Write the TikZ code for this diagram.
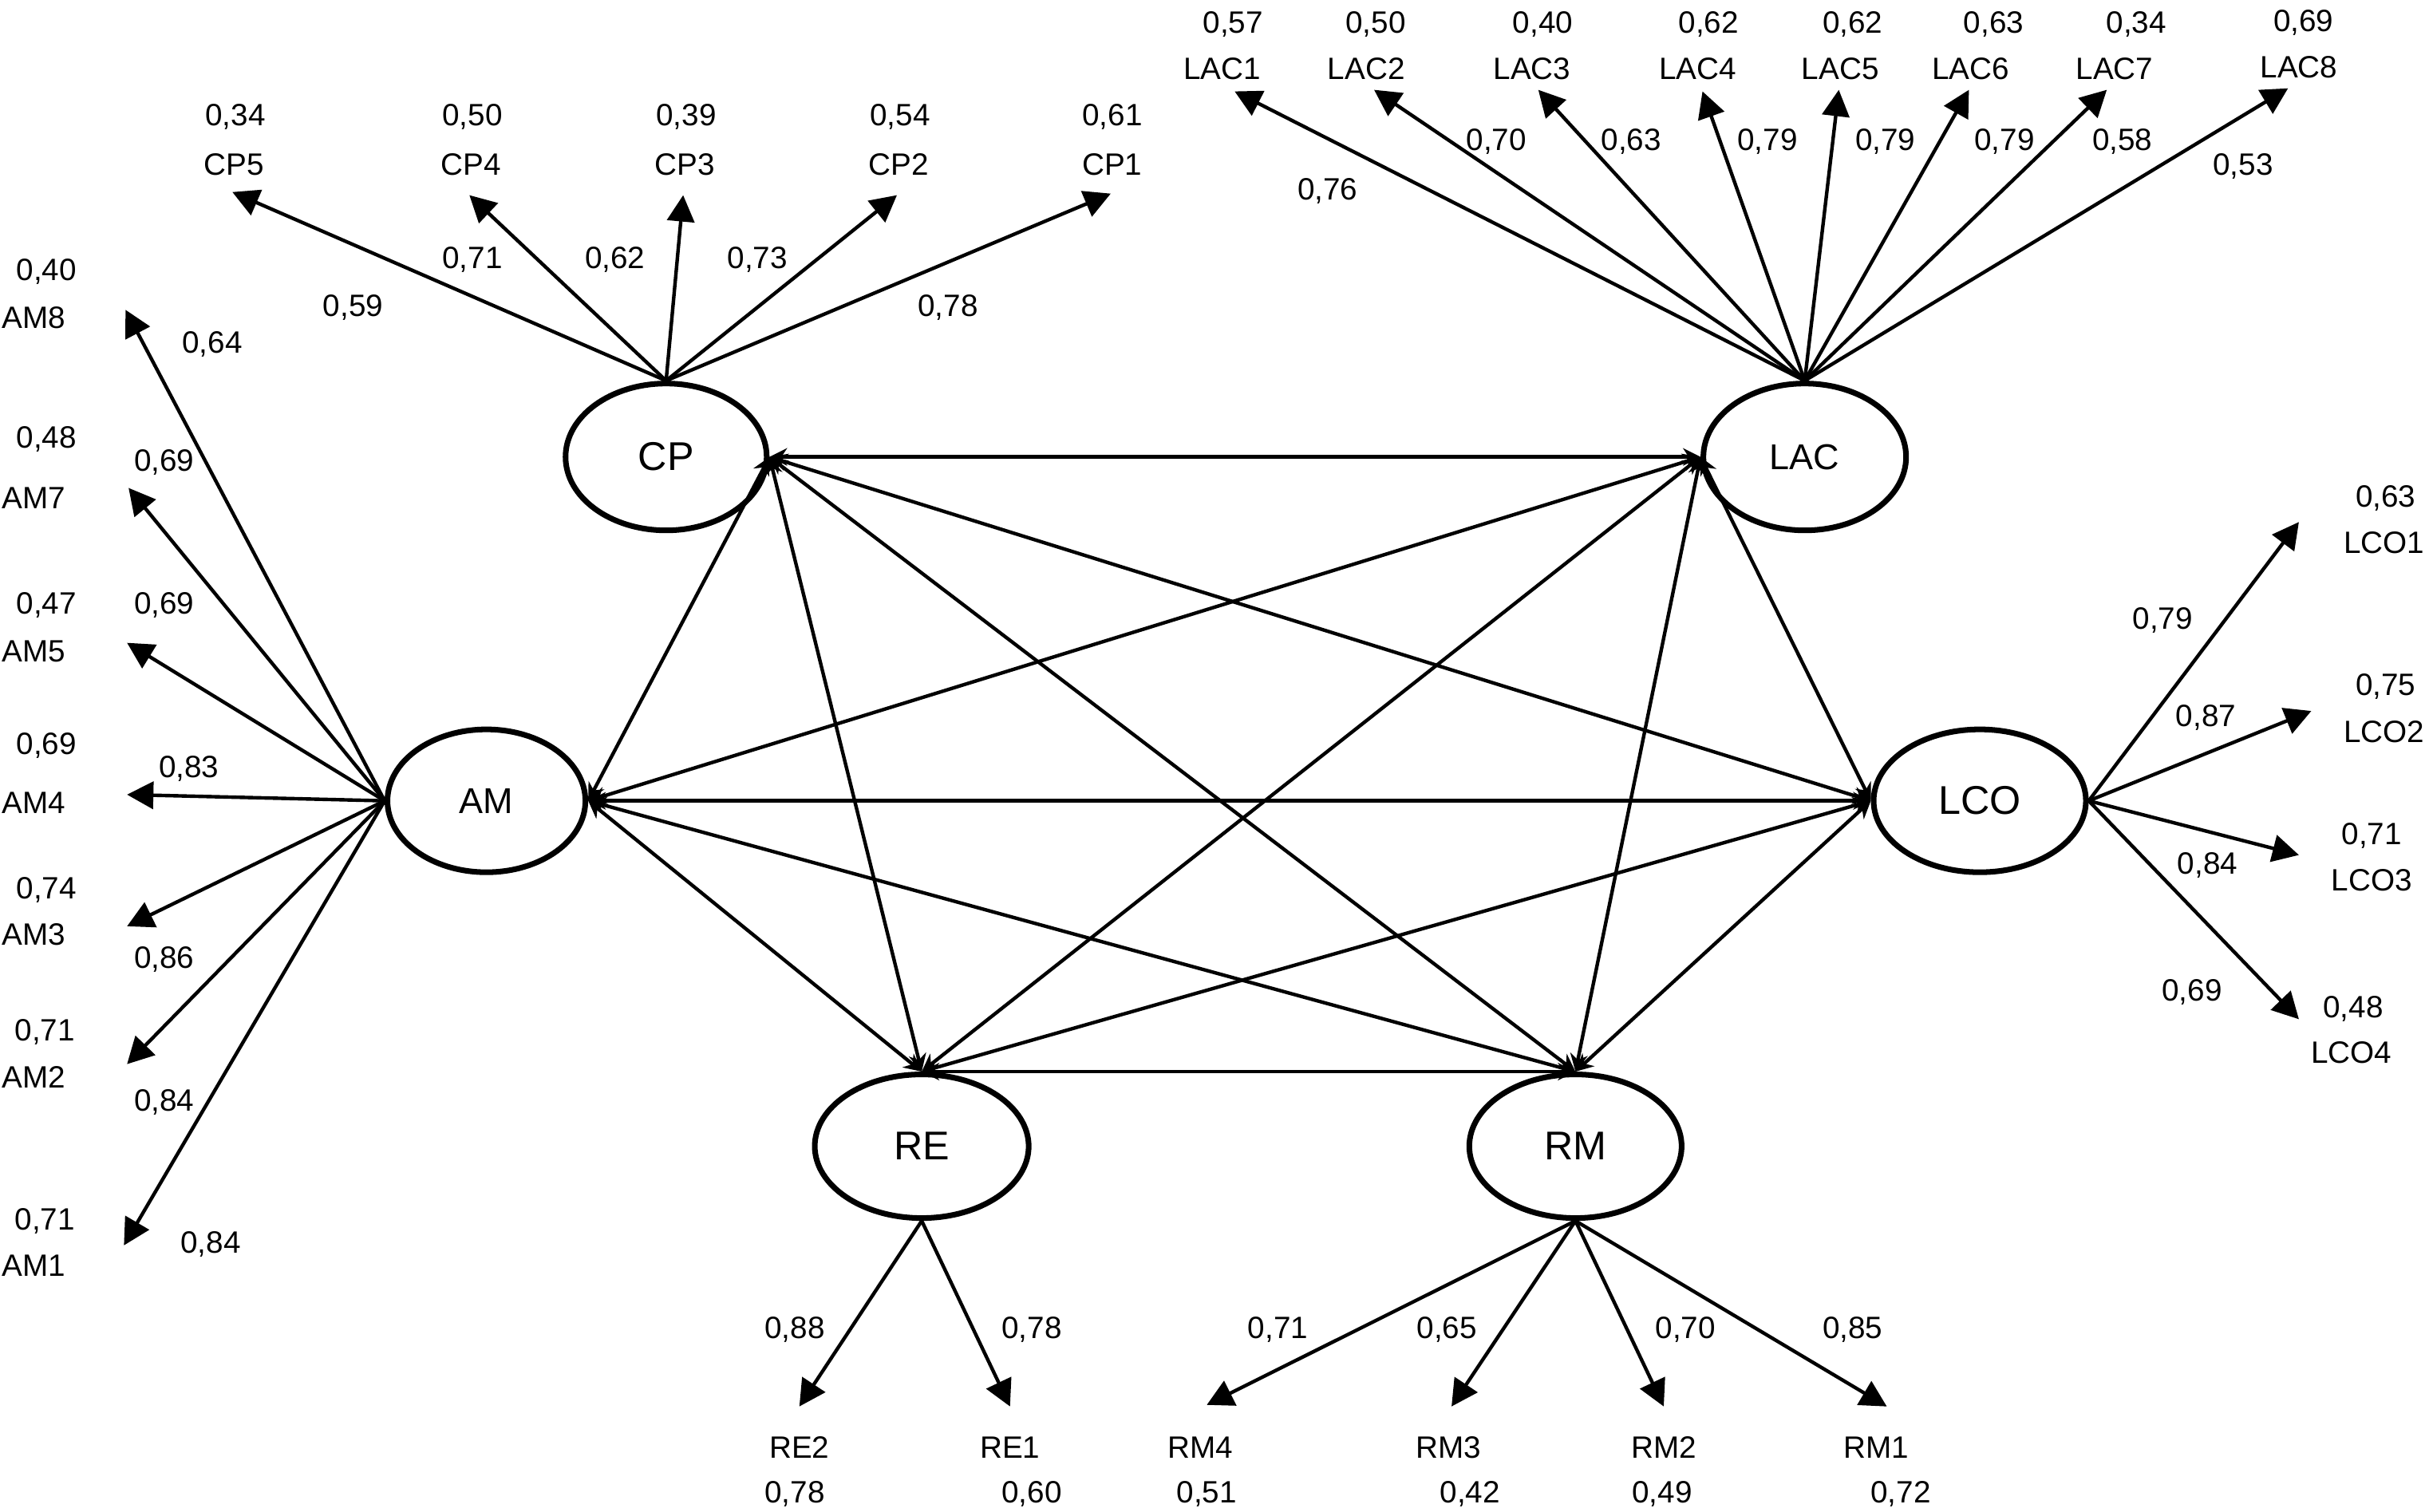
\documentclass[tikz,border=0pt]{standalone}
\usepackage{fontspec}
\setmainfont{Liberation Sans}
\usetikzlibrary{arrows.meta,shapes.geometric}

\begin{document}
\begin{tikzpicture}[x=0.019413cm, y=-0.019413cm,
    latent/.style = {draw, ellipse, line width=2pt, inner sep=0pt, font=\fontsize{14.3}{16}\selectfont},
    item/.style = {inner sep=0pt, text height=7.9pt, text depth=0pt, font=\fontsize{11}{13}\selectfont},
    load/.style = {-{Triangle[length=0.33cm, width=0.34cm]}, line width=1.25pt},
    cov/.style = {{Stealth[length=0.22cm, width=0.22cm]}-{Stealth[length=0.22cm, width=0.22cm]}, line width=1.25pt}]
    \useasboundingbox (0,0) rectangle (1568,976);

    % latent variables
    \node[latent, minimum width=2.52cm, minimum height=1.84cm] (CP) at (430,295) {CP};
    \node[latent, minimum width=2.54cm, minimum height=1.84cm, font=\fontsize{12.8}{15}\selectfont] (LAC) at (1165,295) {LAC};
    \node[latent, minimum width=2.48cm, minimum height=1.79cm, font=\fontsize{12.8}{15}\selectfont] (AM) at (314,517) {AM};
    \node[latent, minimum width=2.66cm, minimum height=1.79cm] (LCO) at (1278,517) {LCO};
    \node[latent, minimum width=2.68cm, minimum height=1.80cm] (RE) at (595,740) {RE};
    \node[latent, minimum width=2.66cm, minimum height=1.80cm] (RM) at (1017,740) {RM};

    % covariances
    \draw[cov] (CP.east) -- (LAC.west);
    \draw[cov] (CP.east) -- (AM.east);
    \draw[cov] (CP.east) -- (LCO.west);
    \draw[cov] (CP.east) -- (RE.north);
    \draw[cov] (CP.east) -- (RM.north);
    \draw[cov] (LAC.west) -- (AM.east);
    \draw[cov] (LAC.west) -- (LCO.west);
    \draw[cov] (LAC.west) -- (RE.north);
    \draw[cov] (LAC.west) -- (RM.north);
    \draw[cov] (AM.east) -- (LCO.west);
    \draw[cov] (AM.east) -- (RE.north);
    \draw[cov] (AM.east) -- (RM.north);
    \draw[cov] (LCO.west) -- (RE.north);
    \draw[cov] (LCO.west) -- (RM.north);
    \draw[cov] (RE.north) -- (RM.north);

    % CP items
    \node[item] (CP5) at (151,106) {CP5}; \node[item] (vCP5) at (152,74) {0,34};
    \coordinate (tCP5) at (150,124); \draw[load] (CP.north) -- (tCP5); \node[item] (lCP5) at (228,197) {0,59};
    \node[item] (CP4) at (304,106) {CP4}; \node[item] (vCP4) at (305,74) {0,50};
    \coordinate (tCP4) at (303,126); \draw[load] (CP.north) -- (tCP4); \node[item] (lCP4) at (305,166) {0,71};
    \node[item] (CP3) at (442,106) {CP3}; \node[item] (vCP3) at (443,74) {0,39};
    \coordinate (tCP3) at (441,126); \draw[load] (CP.north) -- (tCP3); \node[item] (lCP3) at (397,166) {0,62};
    \node[item] (CP2) at (580,106) {CP2}; \node[item] (vCP2) at (581,74) {0,54};
    \coordinate (tCP2) at (579,126); \draw[load] (CP.north) -- (tCP2); \node[item] (lCP2) at (489,166) {0,73};
    \node[item] (CP1) at (718,106) {CP1}; \node[item] (vCP1) at (718,74) {0,61};
    \coordinate (tCP1) at (717,125); \draw[load] (CP.north) -- (tCP1); \node[item] (lCP1) at (612,197) {0,78};

    % LAC items
    \node[item] (LAC1) at (789,44) {LAC1}; \node[item] (vLAC1) at (796,14) {0,57};
    \coordinate (tLAC1) at (797,59); \draw[load] (LAC.north) -- (tLAC1); \node[item] (lLAC1) at (857,122) {0,76};
    \node[item] (LAC2) at (882,44) {LAC2}; \node[item] (vLAC2) at (888,14) {0,50};
    \coordinate (tLAC2) at (887,58); \draw[load] (LAC.north) -- (tLAC2); \node[item] (lLAC2) at (966,90) {0,70};
    \node[item] (LAC3) at (989,44) {LAC3}; \node[item] (vLAC3) at (996,14) {0,40};
    \coordinate (tLAC3) at (993,58); \draw[load] (LAC.north) -- (tLAC3); \node[item] (lLAC3) at (1053,90) {0,63};
    \node[item] (LAC4) at (1096,44) {LAC4}; \node[item] (vLAC4) at (1103,14) {0,62};
    \coordinate (tLAC4) at (1099,59); \draw[load] (LAC.north) -- (tLAC4); \node[item] (lLAC4) at (1141,90) {0,79};
    \node[item] (LAC5) at (1188,44) {LAC5}; \node[item] (vLAC5) at (1196,14) {0,62};
    \coordinate (tLAC5) at (1187,58); \draw[load] (LAC.north) -- (tLAC5); \node[item] (lLAC5) at (1217,90) {0,79};
    \node[item] (LAC6) at (1272,44) {LAC6}; \node[item] (vLAC6) at (1287,14) {0,63};
    \coordinate (tLAC6) at (1271,58); \draw[load] (LAC.north) -- (tLAC6); \node[item] (lLAC6) at (1294,90) {0,79};
    \node[item] (LAC7) at (1365,44) {LAC7}; \node[item] (vLAC7) at (1379,14) {0,34};
    \coordinate (tLAC7) at (1360,58); \draw[load] (LAC.north) -- (tLAC7); \node[item] (lLAC7) at (1370,90) {0,58};
    \node[item] (LAC8) at (1484,43) {LAC8}; \node[item] (vLAC8) at (1487,13) {0,69};
    \coordinate (tLAC8) at (1477,57); \draw[load] (LAC.north) -- (tLAC8); \node[item] (lLAC8) at (1448,106) {0,53};

    % AM items
    \node[item] (AM8) at (22,205) {AM8}; \node[item] (vAM8) at (30,174) {0,40};
    \coordinate (tAM8) at (81,200); \draw[load] (AM.west) -- (tAM8); \node[item] (lAM8) at (137,221) {0,64};
    \node[item] (AM7) at (22,321) {AM7}; \node[item] (vAM7) at (30,282) {0,48};
    \coordinate (tAM7) at (83,315); \draw[load] (AM.west) -- (tAM7); \node[item] (lAM7) at (106,297) {0,69};
    \node[item] (AM5) at (22,420) {AM5}; \node[item] (vAM5) at (30,389) {0,47};
    \coordinate (tAM5) at (82,415); \draw[load] (AM.west) -- (tAM5); \node[item] (lAM5) at (106,389) {0,69};
    \node[item] (AM4) at (22,518) {AM4}; \node[item] (vAM4) at (30,480) {0,69};
    \coordinate (tAM4) at (82,513); \draw[load] (AM.west) -- (tAM4); \node[item] (lAM4) at (122,495) {0,83};
    \node[item] (AM3) at (22,603) {AM3}; \node[item] (vAM3) at (30,573) {0,74};
    \coordinate (tAM3) at (82,598); \draw[load] (AM.west) -- (tAM3); \node[item] (lAM3) at (106,618) {0,86};
    \node[item] (AM2) at (22,695) {AM2}; \node[item] (vAM2) at (29,665) {0,71};
    \coordinate (tAM2) at (82,687); \draw[load] (AM.west) -- (tAM2); \node[item] (lAM2) at (106,710) {0,84};
    \node[item] (AM1) at (22,817) {AM1}; \node[item] (vAM1) at (29,787) {0,71};
    \coordinate (tAM1) at (80,804); \draw[load] (AM.west) -- (tAM1); \node[item] (lAM1) at (136,802) {0,84};

    % LCO items
    \node[item] (LCO1) at (1539,350) {LCO1}; \node[item] (vLCO1) at (1540,320) {0,63};
    \coordinate (tLCO1) at (1484,337); \draw[load] (LCO.east) -- (tLCO1); \node[item] (lLCO1) at (1396,399) {0,79};
    \node[item] (LCO2) at (1539,472) {LCO2}; \node[item] (vLCO2) at (1540,442) {0,75};
    \coordinate (tLCO2) at (1492,459); \draw[load] (LCO.east) -- (tLCO2); \node[item] (lLCO2) at (1424,462) {0,87};
    \node[item] (LCO3) at (1531,568) {LCO3}; \node[item] (vLCO3) at (1531,538) {0,71};
    \coordinate (tLCO3) at (1484,552); \draw[load] (LCO.east) -- (tLCO3); \node[item] (lLCO3) at (1425,557) {0,84};
    \node[item] (LCO4) at (1518,679) {LCO4}; \node[item] (vLCO4) at (1519,650) {0,48};
    \coordinate (tLCO4) at (1484,658); \draw[load] (LCO.east) -- (tLCO4); \node[item] (lLCO4) at (1415,639) {0,69};

    % RE items
    \node[item] (RE2) at (516,934) {RE2}; \node[item] (vRE2) at (513,963) {0,78};
    \coordinate (tRE2) at (516,908); \draw[load] (RE.south) -- (tRE2); \node[item] (lRE2) at (513,857) {0,88};
    \node[item] (RE1) at (652,934) {RE1}; \node[item] (vRE1) at (666,963) {0,60};
    \coordinate (tRE1) at (652,908); \draw[load] (RE.south) -- (tRE1); \node[item] (lRE1) at (666,857) {0,78};

    % RM items
    \node[item] (RM4) at (775,934) {RM4}; \node[item] (vRM4) at (779,963) {0,51};
    \coordinate (tRM4) at (779,907); \draw[load] (RM.south) -- (tRM4); \node[item] (lRM4) at (825,857) {0,71};
    \node[item] (RM3) at (935,934) {RM3}; \node[item] (vRM3) at (949,963) {0,42};
    \coordinate (tRM3) at (937,908); \draw[load] (RM.south) -- (tRM3); \node[item] (lRM3) at (934,857) {0,65};
    \node[item] (RM2) at (1074,934) {RM2}; \node[item] (vRM2) at (1073,963) {0,49};
    \coordinate (tRM2) at (1074,908); \draw[load] (RM.south) -- (tRM2); \node[item] (lRM2) at (1088,857) {0,70};
    \node[item] (RM1) at (1211,934) {RM1}; \node[item] (vRM1) at (1227,963) {0,72};
    \coordinate (tRM1) at (1218,908); \draw[load] (RM.south) -- (tRM1); \node[item] (lRM1) at (1196,857) {0,85};
\end{tikzpicture}
\end{document}
